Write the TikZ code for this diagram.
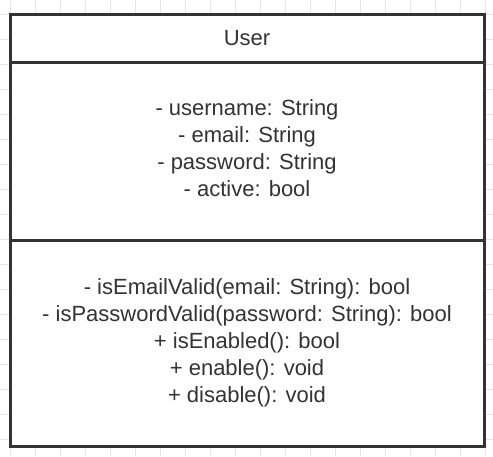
\documentclass[tikz,border=0pt]{standalone}
\usepackage{fontspec}
\setmainfont{Liberation Sans}
\usepackage{tikz}
\usepackage{xcolor}

\definecolor{umlline}{HTML}{333333}
\definecolor{gridgray}{HTML}{E6E6E6}

\begin{document}
\begin{tikzpicture}[x=1pt,y=-1pt,
        every node/.style={font=\fontsize{22}{27}\selectfont, text=umlline},
        compartment/.style={draw=umlline, line width=3pt, fill=white, minimum width=474pt, inner sep=0pt, align=center}]
            \useasboundingbox (0,0) rectangle (493,456);
            % background grid
            \foreach \x in {10,35,...,485} \draw[gridgray, line width=1pt](\x,0) -- (\x,456);
            \foreach \y in {14,39,...,439} \draw[gridgray, line width=1pt](0,\y) -- (493,\y);
            % class User
            \node[compartment, minimum height=48pt] (title) at (247,38) {User};
            \node[compartment, minimum height=178pt, text depth=6pt] (attrs) at (247,151) {- username: String\\- email: String\\- password: String\\- active: bool};
            \node[compartment, minimum height=206pt] (methods) at (247,343) {- isEmailValid(email: String): bool\\- isPasswordValid(password: String): bool\\+ isEnabled(): bool\\+ enable(): void\\+ disable(): void};
        \end{tikzpicture}
\end{document}
